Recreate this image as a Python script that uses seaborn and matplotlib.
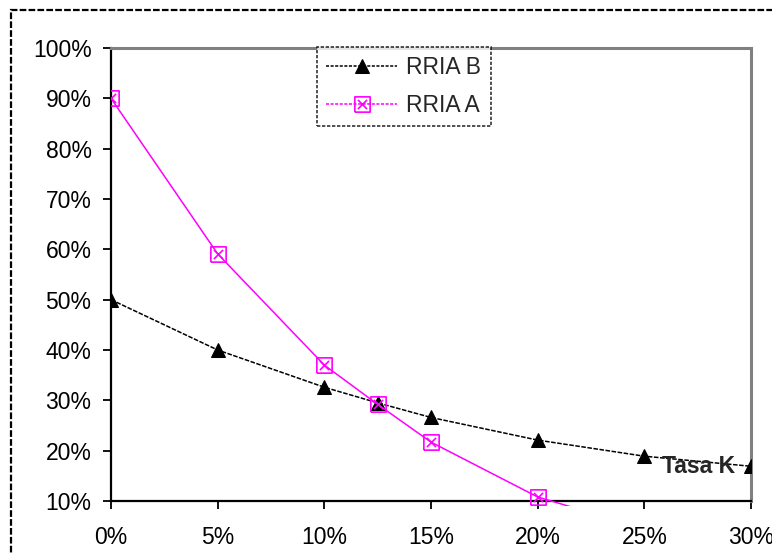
import matplotlib
matplotlib.use("Agg")
import matplotlib.pyplot as plt
from matplotlib.path import Path
from matplotlib.patches import Rectangle
from matplotlib.ticker import FuncFormatter
import seaborn as sns
import pandas as pd

# data
tasa_k = [0.0, 0.05, 0.10, 0.125, 0.15, 0.20, 0.25, 0.30]
rria_b = [0.50, 0.40, 0.326, 0.295, 0.266, 0.221, 0.189, 0.169]
tasa_k_a = [0.0, 0.05, 0.10, 0.125, 0.15, 0.20, 0.25]
rria_a = [0.90, 0.591, 0.370, 0.292, 0.217, 0.108, 0.045]
x_ticks = [0.0, 0.05, 0.10, 0.15, 0.20, 0.25, 0.30]
y_ticks = [0.1, 0.2, 0.3, 0.4, 0.5, 0.6, 0.7, 0.8, 0.9, 1.0]

sns.set_theme(style="white")
plt.rcParams['font.family'] = ['Liberation Sans', 'DejaVu Sans']

fig = plt.figure(figsize=(7.72, 5.53), dpi=100)
ax = fig.add_axes([111/772, 1-501/553, (751-111)/772, (501-48)/553])

# custom square-with-x marker
verts = [(-1, -1), (1, -1), (1, 1), (-1, 1), (-1, -1),
         (-0.6, -0.6), (0.6, 0.6), (-0.6, 0.6), (0.6, -0.6)]
codes = [Path.MOVETO, Path.LINETO, Path.LINETO, Path.LINETO, Path.LINETO,
         Path.MOVETO, Path.LINETO, Path.MOVETO, Path.LINETO]
box_x = Path(verts, codes)

df_b = pd.DataFrame({"k": tasa_k, "v": rria_b})
df_a = pd.DataFrame({"k": tasa_k_a, "v": rria_a})

sns.lineplot(data=df_b, x="k", y="v", ax=ax, color="black", lw=1.1,
             linestyle=(0, (3, 1)), marker="^", markersize=10,
             markerfacecolor="black", markeredgecolor="black",
             label="RRIA B", zorder=3)
sns.lineplot(data=df_a, x="k", y="v", ax=ax, color="#FF00FF", lw=1.1,
             marker=box_x, markersize=11, markerfacecolor="none",
             markeredgecolor="#FF00FF", markeredgewidth=1.2,
             label="RRIA A", zorder=4)

# allow the magenta line to extend a few pixels below the axis like the reference
clip = Rectangle((0, -5/453), 1, 1 + 5/453, transform=ax.transAxes)
ax.lines[-1].set_clip_path(clip)

ax.set_xlim(0, 0.30)
ax.set_ylim(0.10, 1.00)
ax.set_xticks(x_ticks)
ax.set_yticks(y_ticks)
ax.xaxis.set_major_formatter(FuncFormatter(lambda v, p: f"{v*100:.0f}%"))
ax.yaxis.set_major_formatter(FuncFormatter(lambda v, p: f"{v*100:.0f}%"))
ax.set_xlabel("")
ax.set_ylabel("")
ax.tick_params(axis="both", labelsize=16.5, colors="black", direction="out",
               length=6, width=1.3)
ax.tick_params(axis="x", pad=12)
ax.tick_params(axis="y", pad=8)
ax.tick_params(bottom=True, left=True)

for s in ["left", "bottom"]:
    ax.spines[s].set_color("black")
    ax.spines[s].set_linewidth(1.6)
for s in ["top", "right"]:
    ax.spines[s].set_color("#808080")
    ax.spines[s].set_linewidth(2.2)

ax.text(0.2925, 0.169, "Tasa K", fontsize=16.5, fontweight="bold",
        ha="right", va="center", zorder=5)

leg = ax.legend(loc="upper left", bbox_to_anchor=((317-111)/640, 1.003),
                fontsize=16.5, frameon=True, fancybox=False, borderpad=0.4,
                handlelength=3.1, handletextpad=0.4, labelspacing=0.65,
                borderaxespad=0)
leg.get_frame().set_edgecolor("black")
leg.get_frame().set_linestyle((0, (2, 1)))
leg.get_frame().set_linewidth(1.2)
for h in leg.legend_handles:
    h.set_linestyle((0, (2, 1)))

# dashed outer border (cut off at right and bottom)
fig.patches.append(Rectangle((11/772, -0.05), 1.1, 1 - 10/553 + 0.05,
                             transform=fig.transFigure, fill=False,
                             edgecolor="black", lw=1.6,
                             linestyle=(0, (3, 1))))

fig.savefig("out.png", dpi=100)
